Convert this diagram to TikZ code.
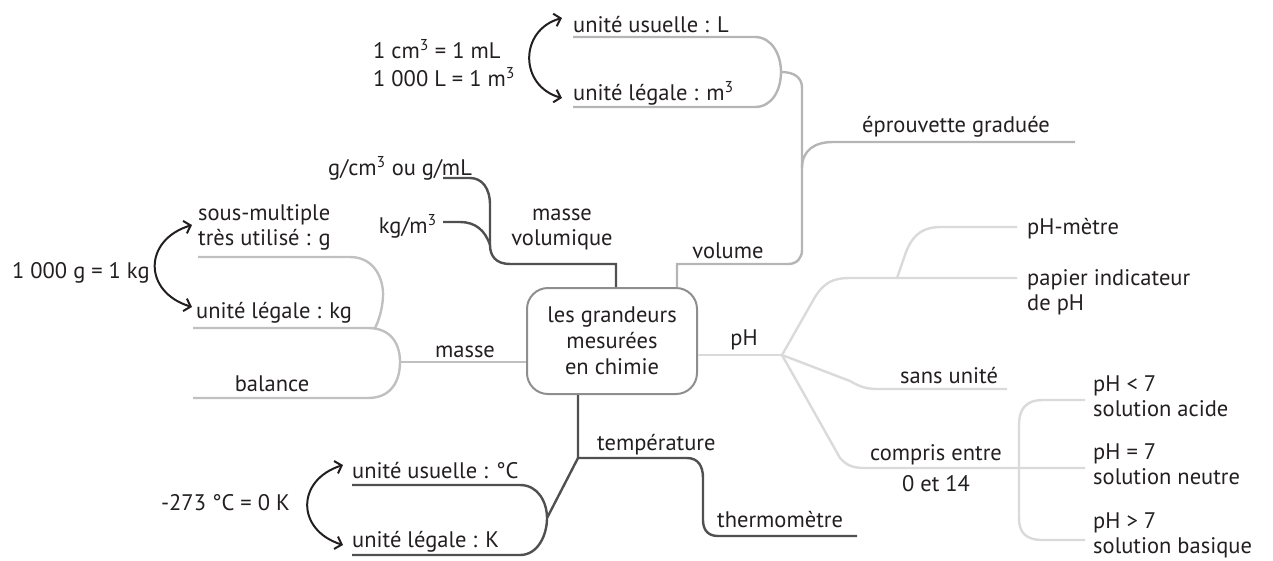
\documentclass[tikz,border=0pt]{standalone}
\usepackage{fontspec}
\setmainfont{PT Sans}
\usepackage{tikz}
\usepackage{xcolor}
\usetikzlibrary{arrows.meta, calc}

\definecolor{ink}{HTML}{231F20}
\definecolor{boxgray}{HTML}{8E8E8E}
\definecolor{massegray}{HTML}{C0C0C0}
\definecolor{volgray}{HTML}{B5B5B7}
\definecolor{phgray}{HTML}{DADADA}
\definecolor{mvgray}{HTML}{505050}

\begin{document}
\begin{tikzpicture}[x=1pt, y=-1pt,
    lbl/.style={inner sep=0pt, font=\fontsize{22.5}{25}\selectfont, text=ink},
    centrebox/.style={draw=boxgray, line width=2pt, rounded corners=21pt, minimum width=170pt,
        minimum height=106pt, align=center, inner sep=0pt, font=\fontsize{22.5}{26}\selectfont, text=ink},
    masseline/.style={draw=massegray, line width=2.4pt},
    volline/.style={draw=volgray, line width=2.4pt},
    phline/.style={draw=phgray, line width=2.4pt},
    mvline/.style={draw=mvgray, line width=2.4pt},
    convert/.style={draw=ink, line width=2pt,
        {Straight Barb[length=6pt,width=13pt]}-{Straight Barb[length=6pt,width=13pt]}}]
    \useasboundingbox (0,0) rectangle (1273,560);

    \node[centrebox] (centre) at (612,341) {les grandeurs\\mesurées\\en chimie};

    % masse
    \coordinate (masseJ) at (400,362);
    \coordinate (gTip) at (192,225);
    \coordinate (kgTip) at (192,307);
    \node[lbl, anchor=base] (masse) at (465,357) {masse};
    \node[lbl, anchor=base] (balance) at (272,391) {balance};
    \node[lbl, anchor=base west] (kgUnit) at (196,318) {unité légale : kg};
    \node[lbl, anchor=base west, align=left] (gUnit) at (198,245) {sous-multiple\\très utilisé : g};
    \node[lbl, anchor=base west] (kgConv) at (12,278) {1~000 g = 1 kg};
    \draw[masseline] (centre.west |- masseJ) -- (masseJ);
    \draw[masseline] (193,328) -- (368,328) .. controls (392,328) and (400,345) .. (masseJ)
        .. controls (400,380) and (392,398) .. (368,398) -- (193,398);
    \draw[masseline] (198,257) -- (350,257) .. controls (375,257) and (384,280) .. (383,297)
        .. controls (382,312) and (378,322) .. (375,328);
    \draw[convert] (gTip) .. controls (143,240) and (143,292) .. (kgTip);

    % masse volumique
    \coordinate (mvJ) at (616,264);
    \coordinate (mvFork) at (490,245);
    \node[lbl, anchor=base, align=center] (mv) at (562,245) {masse\\volumique};
    \node[lbl, anchor=base west] (gcm) at (328,175) {g/cm\textsuperscript{3} ou g/mL};
    \node[lbl, anchor=base east] (kgm) at (437,233) {kg/m\textsuperscript{3}};
    \draw[mvline] (centre.north -| mvJ) -- (mvJ) -- (510,264) .. controls (496,264) and (490,256) .. (mvFork)
        -- (490,205) .. controls (490,188) and (482,178) .. (470,178) -- (443,178);
    \draw[mvline] (443,222) -- (460,222) .. controls (475,222) and (485,230) .. (mvFork);

    % volume
    \coordinate (volJ) at (677,264);
    \coordinate (volStem) at (802,168);
    \coordinate (lTip) at (562,18);
    \coordinate (m3Tip) at (562,98);
    \node[lbl, anchor=base] (volume) at (728,258) {volume};
    \node[lbl, anchor=base west] (eprouvette) at (862,132) {éprouvette graduée};
    \node[lbl, anchor=base west] (lUnit) at (573,32) {unité usuelle : L};
    \node[lbl, anchor=base west] (m3Unit) at (573,100) {unité légale : m\textsuperscript{3}};
    \node[lbl, anchor=base west] (cmConv) at (373,58) {1 cm\textsuperscript{3} = 1 mL};
    \node[lbl, anchor=base west] (lConv) at (373,86) {1~000 L = 1 m\textsuperscript{3}};
    \draw[volline] (centre.north -| volJ) -- (volJ) -- (788,264) .. controls (797,264) and (802,258) .. (802,250)
        -- (802,88) .. controls (802,78) and (795,72) .. (781,72);
    \draw[volline] (volStem) .. controls (802,150) and (815,142) .. (833,142) -- (1075,142);
    \draw[volline] (573,37) -- (755,37) .. controls (772,37) and (781,55) .. (781,72)
        .. controls (781,90) and (772,107) .. (755,107) -- (573,107);
    \draw[convert] (lTip) .. controls (519,30) and (519,86) .. (m3Tip);

    % pH
    \coordinate (phJ) at (782,355);
    \coordinate (papierJ) at (897,278);
    \node[lbl, anchor=base] (ph) at (744,345) {pH};
    \node[lbl, anchor=base west] (phmetre) at (1027,234) {pH-mètre};
    \node[lbl, anchor=base west, align=left] (papier) at (1027,310) {papier indicateur\\de pH};
    \node[lbl, anchor=base west] (sansunite) at (900,383) {sans unité};
    \node[lbl, anchor=base, align=center] (compris) at (936,491) {compris entre\\[6pt]0 et 14};
    \node[lbl, anchor=base west, align=left] (acide) at (1093,416) {pH < 7\\solution acide};
    \node[lbl, anchor=base west, align=left] (neutre) at (1093,484) {pH = 7\\solution neutre};
    \node[lbl, anchor=base west, align=left] (basique) at (1093,553) {pH > 7\\solution basique};
    \draw[phline] (centre.east |- phJ) -- (phJ);
    \draw[phline] (phJ) -- (815,297) .. controls (825,281) and (835,278) .. (850,278) -- (1017,278);
    \draw[phline] (papierJ) -- (906,252) .. controls (914,232) and (925,227) .. (942,227) -- (1017,227);
    \draw[phline] (phJ) -- (850,381) .. controls (862,388) and (868,389) .. (880,389) -- (1007,389);
    \draw[phline] (phJ) -- (840,458) .. controls (848,467) and (855,468) .. (867,468) -- (1085,468);
    \draw[phline] (1085,400) -- (1043,400) .. controls (1025,400) and (1019,410) .. (1019,425) -- (1019,518)
        .. controls (1019,532) and (1025,540) .. (1043,540) -- (1085,540);

    % temperature
    \coordinate (tJ) at (578,458);
    \coordinate (tFork) at (547,518);
    \coordinate (cTip) at (343,465);
    \coordinate (kTip) at (343,545);
    \node[lbl, anchor=base west] (temp) at (597,450) {température};
    \node[lbl, anchor=base west] (thermo) at (717,527) {thermomètre};
    \node[lbl, anchor=base west] (cUnit) at (352,478) {unité usuelle : °C};
    \node[lbl, anchor=base west] (kUnit) at (352,547) {unité légale : K};
    \node[lbl, anchor=base east] (kConv) at (290,510) {-273 °C = 0 K};
    \draw[mvline] (centre.south -| tJ) -- (tJ) -- (687,458) .. controls (698,458) and (703,466) .. (703,478)
        -- (703,520) .. controls (703,530) and (708,536) .. (718,536) -- (857,536);
    \draw[mvline] (tJ) -- (tFork);
    \draw[mvline] (352,485) -- (520,485) .. controls (538,485) and (547,502) .. (tFork)
        .. controls (547,535) and (538,555) .. (520,555) -- (352,555);
    \draw[convert] (cTip) .. controls (296,480) and (296,530) .. (kTip);
\end{tikzpicture}
\end{document}
